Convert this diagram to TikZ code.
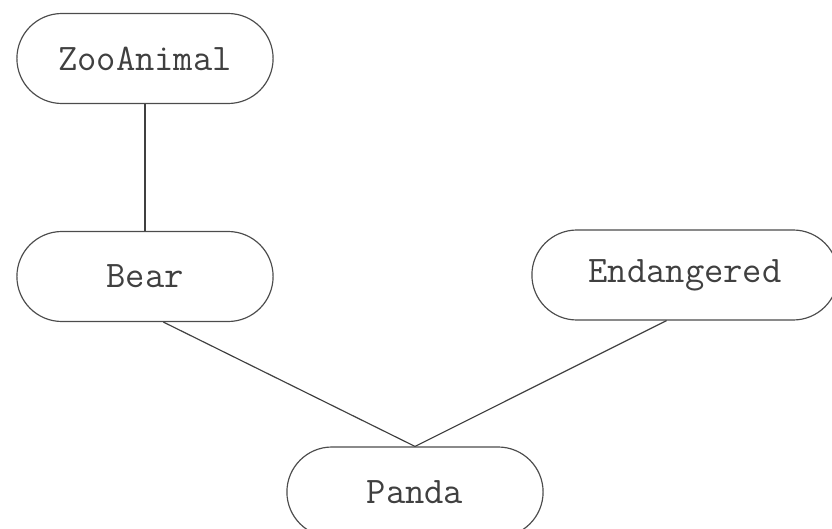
\documentclass[tikz,border=0pt]{standalone}
\usetikzlibrary{shapes.misc}

\begin{document}
\begin{tikzpicture}[x=0.03cm, y=-0.03cm,
	cls/.style={draw=black!70, line width=1pt, rounded rectangle, minimum width=7.92cm, minimum height=2.7cm, font=\ttfamily\fontsize{32}{34}\selectfont, text=black!75},
	link/.style={draw=black!75, line width=1pt}]

	\clip (0,0) rectangle (832,529);

	\node[cls] (zoo) at (145,58.5) {ZooAnimal};
	\node[cls] (bear) at (145,276.5) {Bear};
	\node[cls, minimum width=9.42cm] (endang) at (685,275) {Endangered};
	\node[cls] (panda) at (415,492) {Panda};

	\draw[link] (zoo.south) -- (bear.north);
	\draw[link] (bear.-68) -- (panda.north);
	\draw[link] (endang.-112) -- (panda.north);

\end{tikzpicture}
\end{document}
